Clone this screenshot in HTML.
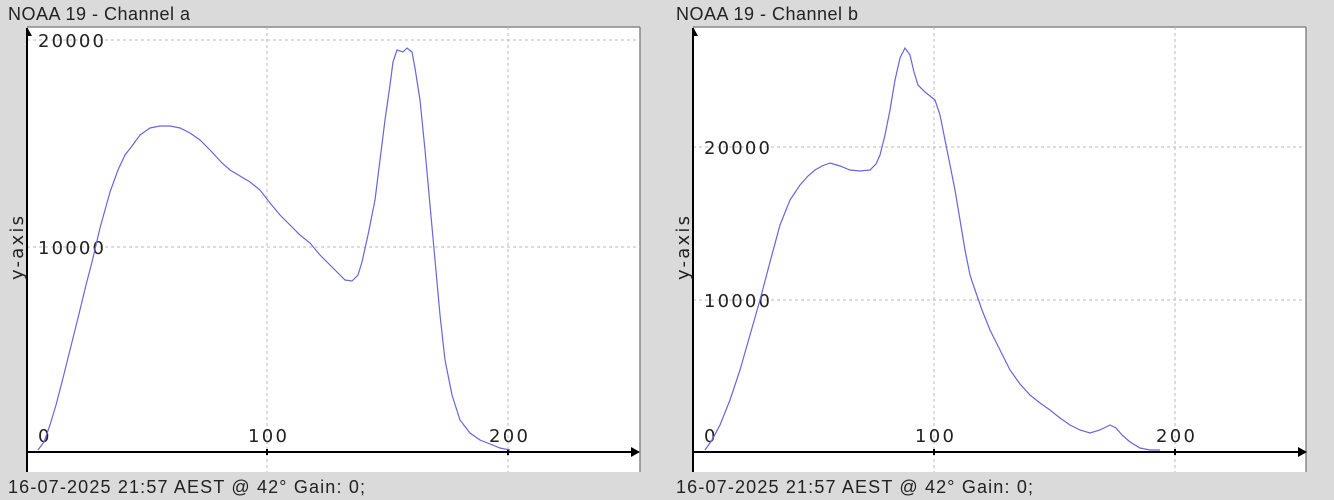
<!DOCTYPE html>
<html><head><style>
body{margin:0;width:1334px;height:500px;background:#dadada;overflow:hidden}
svg{position:absolute;left:0;top:0}
</style></head><body>
<svg width="1334" height="500" xmlns="http://www.w3.org/2000/svg" font-family="DejaVu Sans, sans-serif">
<!-- left panel -->
<rect x="27" y="27" width="613" height="445" fill="#fff"/>
<line x1="640" y1="27" x2="640" y2="472" stroke="#888" stroke-width="1.5"/>
<line x1="27" y1="27" x2="640" y2="27" stroke="#888" stroke-width="1.5"/>
<g stroke="#bbb" stroke-dasharray="3,3" stroke-width="1">
<line x1="267" y1="27" x2="267" y2="472"/><line x1="508" y1="27" x2="508" y2="472"/>
<line x1="27" y1="40" x2="640" y2="40"/><line x1="27" y1="247" x2="640" y2="247"/>
</g>
<line x1="27" y1="28" x2="27" y2="472" stroke="#000" stroke-width="2"/>
<line x1="27" y1="452" x2="634" y2="452" stroke="#000" stroke-width="2"/>
<polygon points="640,452 631,447 631,457" fill="#000"/>
<polygon points="27,27 32,36 27,36" fill="#000"/>
<line x1="267" y1="449" x2="267" y2="455" stroke="#000" stroke-width="2"/>
<line x1="508" y1="449" x2="508" y2="455" stroke="#000" stroke-width="2"/>
<g font-size="18" fill="#222">
<text x="38" y="442">0</text><text x="248" y="442" textLength="39">100</text><text x="489" y="442" textLength="39">200</text>
<text x="38" y="47" textLength="66">20000</text><text x="38" y="254" textLength="66">10000</text>
</g>
<text transform="translate(23,280) rotate(-90)" font-size="18" fill="#222" textLength="64">y-axis</text>
<polyline fill="none" stroke="#6666dd" stroke-width="1.2" points="38,450 44,442 50,425 56,405 62,382 70,350 78,318 86,285 92,262 100,228 110,192 118,170 125,155 132,146 140,135 150,128 160,126 170,126 180,128 190,133 200,140 210,150 222,163 230,170 240,176 250,182 260,190 270,203 280,215 290,225 300,235 310,243 320,255 330,265 340,275 345,280 352,281 358,275 362,262 368,235 375,200 380,160 385,120 390,85 393,62 397,50 403,52 407,48 412,52 415,68 420,100 425,150 430,205 435,260 440,315 445,360 452,395 460,420 470,433 480,440 490,444 500,448 510,450"/>
<text x="8" y="20" font-family="Liberation Sans, sans-serif" font-size="18" fill="#222" textLength="182">NOAA 19 - Channel a</text>
<text x="8" y="493" font-family="Liberation Sans, sans-serif" font-size="18" fill="#222" textLength="357">16-07-2025 21:57 AEST @ 42° Gain: 0;</text>

<!-- right panel -->
<rect x="693" y="27" width="613" height="445" fill="#fff"/>
<line x1="1306" y1="27" x2="1306" y2="472" stroke="#888" stroke-width="1.5"/>
<line x1="693" y1="27" x2="1306" y2="27" stroke="#888" stroke-width="1.5"/>
<g stroke="#bbb" stroke-dasharray="3,3" stroke-width="1">
<line x1="934" y1="27" x2="934" y2="472"/><line x1="1175" y1="27" x2="1175" y2="472"/>
<line x1="693" y1="147" x2="1306" y2="147"/><line x1="693" y1="300" x2="1306" y2="300"/>
</g>
<line x1="693" y1="28" x2="693" y2="472" stroke="#000" stroke-width="2"/>
<line x1="693" y1="452" x2="1300" y2="452" stroke="#000" stroke-width="2"/>
<polygon points="1307,452 1298,447 1298,457" fill="#000"/>
<polygon points="693,27 698,36 693,36" fill="#000"/>
<line x1="934" y1="449" x2="934" y2="455" stroke="#000" stroke-width="2"/>
<line x1="1175" y1="449" x2="1175" y2="455" stroke="#000" stroke-width="2"/>
<g font-size="18" fill="#222">
<text x="704" y="442">0</text><text x="915" y="442" textLength="39">100</text><text x="1156" y="442" textLength="39">200</text>
<text x="704" y="154" textLength="66">20000</text><text x="704" y="307" textLength="66">10000</text>
</g>
<text transform="translate(689,280) rotate(-90)" font-size="18" fill="#222" textLength="64">y-axis</text>
<polyline fill="none" stroke="#6666dd" stroke-width="1.2" points="705,450 712,440 720,425 730,400 740,370 750,335 760,300 770,262 780,225 790,200 800,185 808,176 815,170 822,166 830,163 840,166 850,170 860,171 870,170 876,164 880,155 885,135 890,110 895,80 900,58 905,48 910,55 914,72 918,85 925,92 935,100 940,115 945,140 950,165 955,190 960,220 965,250 970,275 975,290 982,310 990,330 1000,350 1010,370 1020,384 1030,395 1040,403 1050,410 1060,418 1070,425 1080,430 1090,433 1100,430 1110,425 1116,428 1122,435 1130,442 1140,448 1150,450 1160,450"/>
<text x="676" y="20" font-family="Liberation Sans, sans-serif" font-size="18" fill="#222" textLength="182">NOAA 19 - Channel b</text>
<text x="676" y="493" font-family="Liberation Sans, sans-serif" font-size="18" fill="#222" textLength="357">16-07-2025 21:57 AEST @ 42° Gain: 0;</text>
</svg>
</body></html>
